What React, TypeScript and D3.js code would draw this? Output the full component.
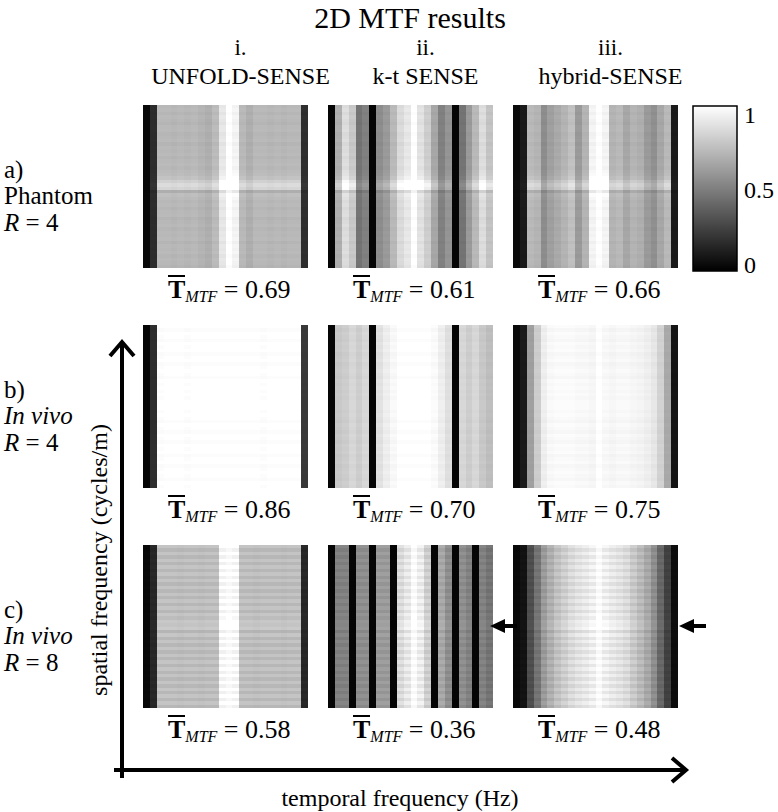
import React from "react";
import * as d3 from "d3";

// headings
const methods = ["UNFOLD-SENSE", "k-t SENSE", "hybrid-SENSE"];
const numerals = ["i.", "ii.", "iii."];
const rowTags = ["a)", "b)", "c)"];
const rowSubjects = ["Phantom", "In vivo", "In vivo"];
const rowFactors = [4, 4, 8];
const tMtf = [
  [0.69, 0.61, 0.66],
  [0.86, 0.7, 0.75],
  [0.58, 0.36, 0.48],
];
const cbarTicks = [0, 0.5, 1];

// column (temporal frequency) profiles, 24 bins each
const aUnfold = [0.03, 0.17, 0.72, 0.72, 0.71, 0.72, 0.71, 0.72, 0.7, 0.68, 0.73, 0.9, 1.0, 0.95, 0.72, 0.68, 0.72, 0.72, 0.71, 0.72, 0.71, 0.72, 0.72, 0.18];
const aKt = [0.02, 0.68, 0.86, 0.78, 0.45, 0.5, 0.02, 0.55, 0.6, 0.72, 0.85, 0.9, 1.0, 0.88, 0.8, 0.65, 0.5, 0.58, 0.02, 0.45, 0.6, 0.72, 0.86, 0.76];
const aHybrid = [0.04, 0.1, 0.72, 0.7, 0.55, 0.62, 0.66, 0.7, 0.75, 0.6, 0.7, 0.95, 1.0, 0.95, 0.7, 0.72, 0.65, 0.7, 0.68, 0.6, 0.56, 0.65, 0.72, 0.1];
const bUnfold = [0.02, 0.18, 0.99, 1.0, 1.0, 1.0, 0.99, 1.0, 1.0, 1.0, 1.0, 1.0, 1.0, 1.0, 1.0, 1.0, 1.0, 0.99, 1.0, 1.0, 1.0, 1.0, 1.0, 0.22];
const bKt = [0.02, 0.78, 0.8, 0.84, 0.8, 0.84, 0.02, 0.88, 0.93, 0.97, 1.0, 1.0, 1.0, 1.0, 1.0, 0.98, 0.93, 0.87, 0.02, 0.84, 0.8, 0.84, 0.78, 0.74];
const bHybrid = [0.04, 0.1, 0.62, 0.8, 0.93, 0.97, 0.98, 0.98, 0.98, 0.97, 0.97, 0.96, 1.0, 0.97, 0.96, 0.97, 0.97, 0.96, 0.95, 0.93, 0.9, 0.82, 0.66, 0.08];
const cUnfold = [0.03, 0.15, 0.74, 0.74, 0.74, 0.73, 0.74, 0.74, 0.73, 0.74, 0.74, 0.97, 1.0, 0.97, 0.74, 0.74, 0.73, 0.74, 0.74, 0.74, 0.73, 0.74, 0.74, 0.15];
const cKt = [0.02, 0.5, 0.5, 0.02, 0.55, 0.55, 0.02, 0.6, 0.6, 0.02, 0.85, 0.9, 1.0, 0.92, 0.8, 0.02, 0.65, 0.55, 0.02, 0.55, 0.5, 0.02, 0.5, 0.45];
const cHybrid = [0.03, 0.07, 0.3, 0.45, 0.6, 0.68, 0.75, 0.8, 0.85, 0.88, 0.9, 0.93, 1.0, 0.93, 0.9, 0.88, 0.85, 0.78, 0.72, 0.65, 0.55, 0.4, 0.25, 0.05];

// row (spatial frequency) modulation, 48 bins each
const rowModA = [0, 0.015, -0.01, 0.015, 0, -0.015, 0.01, 0.015, -0.01, 0, 0.015, -0.015, 0.01, 0, 0.015, -0.01, 0.01, 0.02, 0, 0.02, 0.03, 0.06, 0.14, 0.2, 0.16, -0.05, 0.04, 0.02, 0, 0.015, -0.01, 0.01, 0.015, -0.015, 0, 0.015, -0.01, 0.01, 0, 0.015, -0.015, 0.01, 0, 0.015, -0.01, 0.01, 0, -0.015];
const rowModB = [0.01, -0.01, 0.01, 0, -0.01, 0.01, 0, 0.01, -0.01, 0, 0.01, -0.01, 0, 0.01, 0, -0.01, 0.01, 0, 0.01, 0, 0.01, 0, 0.01, 0.01, 0.01, 0, 0.01, 0, -0.01, 0.01, 0, -0.01, 0.01, 0, -0.01, 0.01, 0, 0.01, -0.01, 0, 0.01, -0.01, 0, 0.01, 0, -0.01, 0.01, 0];
const rowModC = [0.04, -0.03, 0.04, -0.03, 0.04, -0.03, 0.04, -0.03, 0.04, -0.03, 0.04, -0.03, 0.04, -0.03, 0.04, -0.03, 0.04, -0.03, 0.04, -0.03, 0.05, 0, 0.06, 0.04, 0.07, -0.04, 0.05, -0.03, 0.04, -0.03, 0.04, -0.03, 0.04, -0.03, 0.04, -0.03, 0.04, -0.03, 0.04, -0.03, 0.04, -0.03, 0.04, -0.03, 0.04, -0.03, 0.04, -0.03];

const panelCols = [
  [aUnfold, aKt, aHybrid],
  [bUnfold, bKt, bHybrid],
  [cUnfold, cKt, cHybrid],
];
const rowMods = [rowModA, rowModB, rowModC];

const W = 778;
const H = 812;
const serif = "Liberation Serif, Times New Roman, Times, serif";
const panelX0 = 143;
const panelY0 = 105;
const panelW = 165;
const panelH = 163;
const stepX = 185;
const stepY = 220;

const gray = d3.scaleSequential(d3.interpolateRgb("#000", "#fff")).domain([0, 1]);

const Panel = ({ cols, mods, x, y }) => {
  const xs = d3.scaleBand().domain(d3.range(cols.length)).range([0, panelW]);
  const ys = d3.scaleBand().domain(d3.range(mods.length)).range([0, panelH]);
  const cells = [];
  mods.forEach((m, r) => {
    cols.forEach((c, k) => {
      const v = Math.max(0, Math.min(1, c * (1 + m)));
      cells.push(
        <rect key={r + "-" + k} x={xs(k)} y={ys(r)} width={xs.bandwidth() + 0.4} height={ys.bandwidth() + 0.4} fill={gray(v)} />
      );
    });
  });
  return <g transform={`translate(${x},${y})`} shapeRendering="crispEdges">{cells}</g>;
};

const MtfLabel = ({ x, y, value }) => (
  <g>
    <line x1={x} x2={x + 17} y1={y - 22} y2={y - 22} stroke="#000" strokeWidth={2} />
    <text x={x} y={y} fontSize={26} fill="#000">
      <tspan fontWeight="bold">T</tspan>
      <tspan fontStyle="italic" fontSize={16} dy={4}>MTF</tspan>
      <tspan dy={-4}>{" = " + d3.format(".2f")(value)}</tspan>
    </text>
  </g>
);

const LeftArrow = ({ tipX, y }) => (
  <g fill="#000">
    <path d={`M${tipX},${y} L${tipX + 15},${y - 7} L${tipX + 15},${y + 7} Z`} />
    <rect x={tipX + 12} y={y - 2} width={15} height={4} />
  </g>
);

export default function App() {
  const cbX = 693;
  const cbW = 44;
  const cbY = 106;
  const cbH = 165;
  const cbScale = d3.scaleLinear().domain([0, 1]).range([265, 115]);

  return (
    <svg width={W} height={H} style={{ position: "absolute", left: 0, top: 0, background: "#fff", fontFamily: serif }}>
      <defs>
        <linearGradient id="cbar" x1="0" y1="1" x2="0" y2="0">
          <stop offset="0%" stopColor={gray(0)} />
          <stop offset="100%" stopColor={gray(1)} />
        </linearGradient>
      </defs>

      <text x={410} y={27.5} textAnchor="middle" fontSize={30}>2D MTF results</text>

      {methods.map((m, j) => {
        const cx = panelX0 + panelW / 2 + j * stepX + 15;
        return (
          <g key={m} textAnchor="middle">
            <text x={cx} y={55} fontSize={23}>{numerals[j]}</text>
            <text x={cx} y={84} fontSize={24}>{m}</text>
          </g>
        );
      })}

      {rowTags.map((tag, i) => {
        const y0 = 178 + i * stepY;
        return (
          <g key={tag} fontSize={25}>
            <text x={4} y={y0}>{tag}</text>
            <text x={4} y={y0 + 26}>
              {i > 0 ? <tspan fontStyle="italic">{rowSubjects[i]}</tspan> : rowSubjects[i]}
            </text>
            <text x={4} y={y0 + 53}>
              <tspan fontStyle="italic">R</tspan>
              <tspan>{" = " + rowFactors[i]}</tspan>
            </text>
          </g>
        );
      })}

      {panelCols.map((row, i) =>
        row.map((cols, j) => (
          <Panel key={i + "-" + j} cols={cols} mods={rowMods[i]} x={panelX0 + j * stepX} y={panelY0 + i * stepY} />
        ))
      )}

      {tMtf.map((row, i) =>
        row.map((v, j) => (
          <MtfLabel key={i + "-" + j} x={panelX0 + 25 + j * stepX} y={298 + i * stepY} value={v} />
        ))
      )}

      {/* colour bar */}
      <rect x={cbX} y={cbY} width={cbW} height={cbH} fill="url(#cbar)" stroke="#000" strokeWidth={1.5} />
      {cbarTicks.map((t) => (
        <text key={t} x={744} y={cbScale(t)} dy="0.35em" fontSize={24}>{t}</text>
      ))}

      {/* arrows marking the centre row */}
      <LeftArrow tipX={490} y={626} />
      <LeftArrow tipX={679} y={626} />

      {/* frequency axes */}
      <g stroke="#000" strokeWidth={4} fill="none" strokeLinecap="butt">
        <line x1={122} y1={778} x2={122} y2={342} />
        <polyline points="110,356 122,342 134,356" strokeLinejoin="miter" />
        <line x1={114} y1={770} x2={686} y2={770} />
        <polyline points="672,758 686,770 672,782" strokeLinejoin="miter" />
      </g>
      <text transform="translate(107,560) rotate(-90)" textAnchor="middle" fontSize={24}>spatial frequency (cycles/m)</text>
      <text x={400} y={806} textAnchor="middle" fontSize={24}>temporal frequency (Hz)</text>
    </svg>
  );
}
